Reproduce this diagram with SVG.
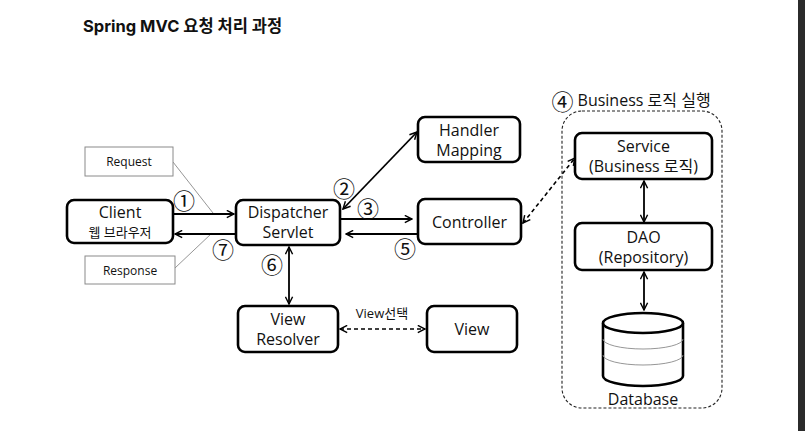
<svg xmlns="http://www.w3.org/2000/svg" width="805" height="431" viewBox="0 0 805 431">
<defs>
<style>
.box{fill:#fff;stroke:#000;stroke-width:2.6}
.note{fill:#fff;stroke:#8a8a8a;stroke-width:1}
.t{font-family:"Open Sans","Noto Sans CJK KR",sans-serif;font-size:16px;fill:#111;text-anchor:middle;dominant-baseline:central}
.s{font-size:12px}
.k{font-size:13px}
.num{font-family:"Noto Sans CJK KR",sans-serif;font-size:22px;fill:#111;text-anchor:middle;dominant-baseline:central}
.ln{stroke:#000;stroke-width:1.8;fill:none}
.dash{stroke:#000;stroke-width:1.6;fill:none;stroke-dasharray:4,3}
.thin{stroke:#8a8a8a;stroke-width:0.9;fill:none}
</style>
<marker id="ah" viewBox="0 0 10 10" refX="9" refY="5" markerWidth="9" markerHeight="9" markerUnits="userSpaceOnUse" orient="auto-start-reverse">
<path d="M1,1 L9,5 L1,9" fill="none" stroke="#000" stroke-width="1.6"/>
</marker>
</defs>
<rect width="805" height="431" fill="#fff"/>
<rect x="798" y="0" width="7" height="431" fill="#2b2b2b"/>
<text x="83" y="26" font-family="Inter,'Noto Sans CJK KR',sans-serif" font-size="16.5px" font-weight="bold" fill="#111" dominant-baseline="central">Spring MVC 요청 처리 과정</text>

<g id="connectors">
<line class="thin" x1="173" y1="162" x2="213" y2="213"/>
<line class="thin" x1="175" y1="268" x2="212" y2="233"/>
<line class="ln" x1="173" y1="214" x2="234" y2="214" marker-end="url(#ah)"/>
<line class="ln" x1="236" y1="234" x2="175" y2="234" marker-end="url(#ah)"/>
<line class="ln" x1="343" y1="209" x2="417" y2="132" marker-start="url(#ah)" marker-end="url(#ah)"/>
<line class="ln" x1="340" y1="219" x2="412" y2="219" marker-end="url(#ah)"/>
<line class="ln" x1="418" y1="234" x2="346" y2="234" marker-end="url(#ah)"/>
<line class="ln" x1="289" y1="247" x2="289" y2="304" marker-start="url(#ah)" marker-end="url(#ah)"/>
<line class="dash" x1="340" y1="329" x2="425" y2="329" marker-start="url(#ah)" marker-end="url(#ah)"/>
<line class="dash" x1="523" y1="223" x2="575" y2="158" marker-start="url(#ah)" marker-end="url(#ah)"/>
<line class="ln" x1="644" y1="181" x2="644" y2="222" marker-start="url(#ah)" marker-end="url(#ah)"/>
<line class="ln" x1="644" y1="272" x2="644" y2="310" marker-start="url(#ah)" marker-end="url(#ah)"/>
</g>

<g id="labels">
<text class="num" x="184" y="199">①</text>
<text class="num" x="344" y="187">②</text>
<text class="num" x="368" y="207">③</text>
<text class="num" x="405" y="247">⑤</text>
<text class="num" x="272" y="263">⑥</text>
<text class="num" x="223" y="248">⑦</text>
<text class="t" x="382" y="313" style="font-size:13px">View선택</text>
</g>

<g id="request">
<rect class="note" x="85" y="147" width="88" height="29"/>
<text class="t s" x="129" y="161.5">Request</text>
</g>
<g id="response">
<rect class="note" x="85" y="256" width="90" height="28"/>
<text class="t s" x="130" y="270">Response</text>
</g>

<g id="client">
<rect class="box" x="67" y="200" width="106" height="43" rx="7"/>
<text class="t" x="120" y="212">Client</text>
<text class="t k" x="120" y="232">웹 브라우저</text>
</g>

<g id="dispatcher">
<rect class="box" x="236" y="200" width="104" height="45" rx="7"/>
<text class="t" x="288" y="212">Dispatcher</text>
<text class="t" x="288" y="232">Servlet</text>
</g>

<g id="handler">
<rect class="box" x="418" y="117" width="102" height="45" rx="7"/>
<text class="t" x="469" y="130">Handler</text>
<text class="t" x="469" y="150">Mapping</text>
</g>

<g id="controller">
<rect class="box" x="418" y="199" width="103" height="45" rx="7"/>
<text class="t" x="469.5" y="222">Controller</text>
</g>

<g id="viewresolver">
<rect class="box" x="238" y="306" width="100" height="46" rx="7"/>
<text class="t" x="288" y="319">View</text>
<text class="t" x="288" y="339">Resolver</text>
</g>

<g id="view">
<rect class="box" x="427" y="306" width="90" height="46" rx="7"/>
<text class="t" x="472" y="329">View</text>
</g>

<g id="business">
<rect x="562" y="111" width="160" height="297" rx="20" fill="none" stroke="#222" stroke-width="1.1" stroke-dasharray="3,2"/>
<text class="t" x="631" y="100"><tspan font-family="'Noto Sans CJK KR',sans-serif" font-size="22px">④</tspan> Business 로직 실행</text>
</g>

<g id="service">
<rect class="box" x="575" y="133" width="137" height="46" rx="7"/>
<text class="t" x="643.5" y="146">Service</text>
<text class="t" x="643.5" y="166">(Business 로직)</text>
</g>

<g id="dao">
<rect class="box" x="575" y="223" width="137" height="47" rx="7"/>
<text class="t" x="643.5" y="237">DAO</text>
<text class="t" x="643.5" y="257">(Repository)</text>
</g>

<g id="database">
<path d="M603,323 L603,376 A40,10 0 0 0 683,376 L683,323" fill="#fff" stroke="#000" stroke-width="2.6"/>
<path d="M603,339 A40,10 0 0 0 683,339" class="thin"/>
<path d="M603,355 A40,10 0 0 0 683,355" class="thin"/>
<ellipse cx="643" cy="323" rx="40" ry="10" fill="#fff" stroke="#000" stroke-width="2.6"/>
<text class="t" x="643" y="399">Database</text>
</g>
</svg>
